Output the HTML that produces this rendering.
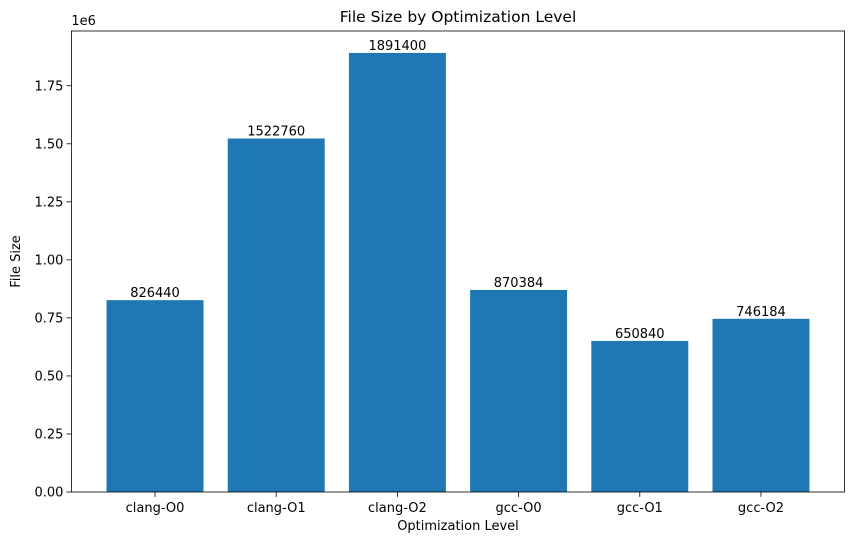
<!DOCTYPE html>
<html><head><meta charset="utf-8"><style>
body{margin:0;background:#fff;}
svg text{font-family:"DejaVu Sans","Liberation Sans",sans-serif;fill:#000;}
</style></head><body>
<svg id="chart" width="855" height="545" xmlns="http://www.w3.org/2000/svg"></svg>
<script>
const categories=["clang-O0","clang-O1","clang-O2","gcc-O0","gcc-O1","gcc-O2"];
const values=[826440,1522760,1891400,870384,650840,746184];
const yTicks=[0,250000,500000,750000,1000000,1250000,1500000,1750000];
const yTickLabels=["0.00","0.25","0.50","0.75","1.00","1.25","1.50","1.75"];
const L=71.4,R=844.6,T=31,B=492;
const xMin=-0.69,xMax=5.69;
const yMax=Math.max(...values)*1.05;
const xs=v=>L+(v-xMin)/(xMax-xMin)*(R-L);
const ys=v=>B-v/yMax*(B-T);
const svg=document.getElementById('chart');
const NS="http://www.w3.org/2000/svg";
function mk(tag,attrs,text){const e=document.createElementNS(NS,tag);for(const k in attrs)e.setAttribute(k,attrs[k]);if(text!==undefined)e.textContent=text;svg.appendChild(e);return e;}
const unit=xs(1)-xs(0);
categories.forEach((c,i)=>{
  const x=xs(i),y=ys(values[i]);
  const r=mk('rect',{x:x-0.4*unit,y:y,width:0.8*unit,height:B-y,fill:'#1f77b4'});
  
  
  const t=mk('text',{x:x,y:y-3,'text-anchor':'middle','font-size':'13'},String(values[i]));
  
  
  const tk=mk('line',{x1:x,x2:x,y1:B,y2:B+4.9,stroke:'#000','stroke-width':0.8});
  
  
  const tl=mk('text',{x:x,y:B+20,'text-anchor':'middle','font-size':'13'},c);
  
  
});
yTicks.forEach((v,i)=>{
  const y=ys(v);
  const tk=mk('line',{x1:L-4.9,x2:L,y1:y,y2:y,stroke:'#000','stroke-width':0.8});
  
  
  const tl=mk('text',{x:L-8,y:y+4.5,'text-anchor':'end','font-size':'13'},yTickLabels[i]);
  
  
});
const fr=mk('rect',{x:L,y:T,width:R-L,height:B-T,fill:'none',stroke:'#000','stroke-width':0.8});


const off=mk('text',{x:L,y:T-6,'font-size':'13'},'1e6');


const ti=mk('text',{x:(L+R)/2,y:T-9,'text-anchor':'middle','font-size':'15.5'},'File Size by Optimization Level');


const xt=mk('text',{x:(L+R)/2,y:B+38,'text-anchor':'middle','font-size':'13'},'Optimization Level');


const yt=mk('text',{x:0,y:0,'text-anchor':'middle','font-size':'13',transform:`translate(20,${(T+B)/2}) rotate(-90)`},'File Size');


</script>
</body></html>
